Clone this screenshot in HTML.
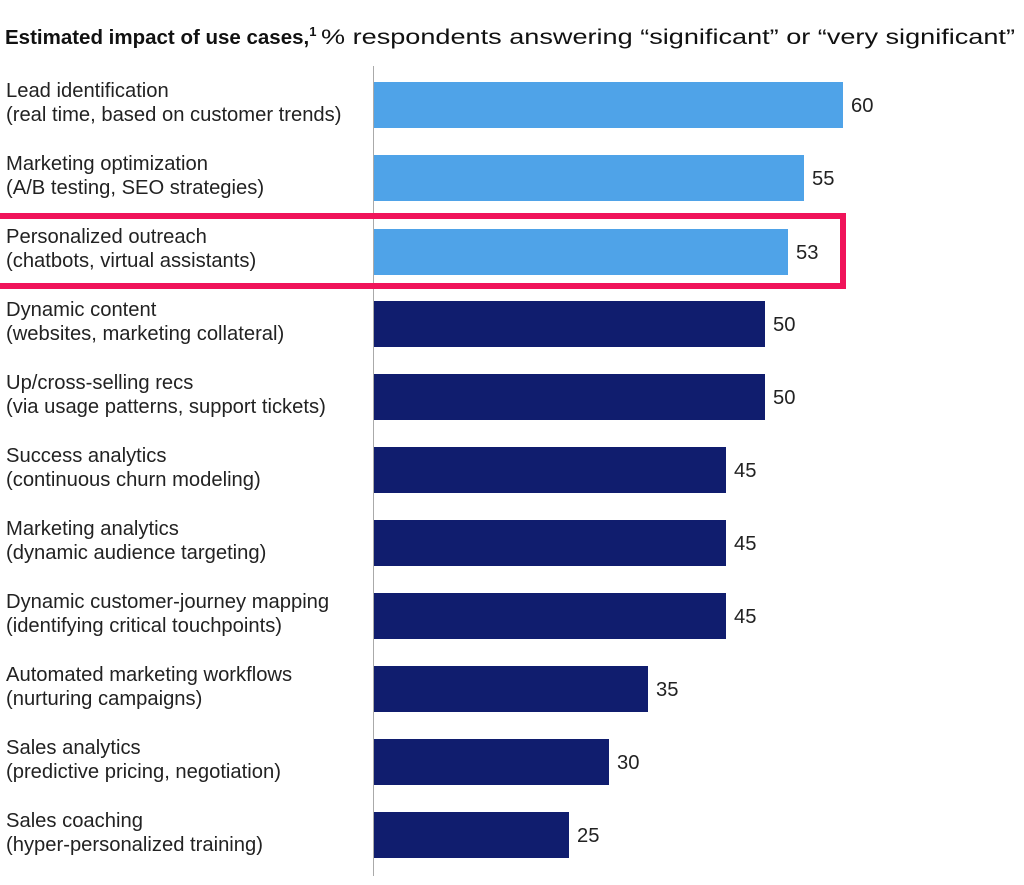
<!DOCTYPE html>
<html><head><meta charset="utf-8"><style>
body{margin:0;background:#fff;width:1024px;height:880px;overflow:hidden;font-family:"Liberation Sans",sans-serif;}
</style></head><body>
<svg width="1024" height="880" xmlns="http://www.w3.org/2000/svg" font-family="Liberation Sans, sans-serif">
<text x="5" y="44" font-size="20.5" fill="#111" font-weight="bold">Estimated impact of use cases,<tspan font-size="13" dy="-8">1</tspan></text>
<text x="321" y="44" font-size="21" fill="#111" textLength="694" lengthAdjust="spacingAndGlyphs">% respondents answering “significant” or “very significant”</text>
<line x1="373.5" y1="66" x2="373.5" y2="876" stroke="#aaa" stroke-width="1"/>
<g font-size="20.2" fill="#222">
<rect x="374" y="82" width="469" height="46" fill="#4fa3e8"/><text x="851" y="112">60</text>
<text x="6" y="97">Lead identification</text><text x="6" y="121">(real time, based on customer trends)</text>

<rect x="374" y="155" width="430" height="46" fill="#4fa3e8"/><text x="812" y="185">55</text>
<text x="6" y="170">Marketing optimization</text><text x="6" y="194">(A/B testing, SEO strategies)</text>

<rect x="374" y="229" width="414" height="46" fill="#4fa3e8"/><text x="796" y="259">53</text>
<text x="6" y="243">Personalized outreach</text><text x="6" y="267">(chatbots, virtual assistants)</text>

<rect x="374" y="301" width="391" height="46" fill="#101d6e"/><text x="773" y="331">50</text>
<text x="6" y="316">Dynamic content</text><text x="6" y="340">(websites, marketing collateral)</text>

<rect x="374" y="374" width="391" height="46" fill="#101d6e"/><text x="773" y="404">50</text>
<text x="6" y="389">Up/cross-selling recs</text><text x="6" y="413">(via usage patterns, support tickets)</text>

<rect x="374" y="447" width="352" height="46" fill="#101d6e"/><text x="734" y="477">45</text>
<text x="6" y="462">Success analytics</text><text x="6" y="486">(continuous churn modeling)</text>

<rect x="374" y="520" width="352" height="46" fill="#101d6e"/><text x="734" y="550">45</text>
<text x="6" y="535">Marketing analytics</text><text x="6" y="559">(dynamic audience targeting)</text>

<rect x="374" y="593" width="352" height="46" fill="#101d6e"/><text x="734" y="623">45</text>
<text x="6" y="608">Dynamic customer-journey mapping</text><text x="6" y="632">(identifying critical touchpoints)</text>

<rect x="374" y="666" width="274" height="46" fill="#101d6e"/><text x="656" y="696">35</text>
<text x="6" y="681">Automated marketing workflows</text><text x="6" y="705">(nurturing campaigns)</text>

<rect x="374" y="739" width="235" height="46" fill="#101d6e"/><text x="617" y="769">30</text>
<text x="6" y="754">Sales analytics</text><text x="6" y="778">(predictive pricing, negotiation)</text>

<rect x="374" y="812" width="195" height="46" fill="#101d6e"/><text x="577" y="842">25</text>
<text x="6" y="827">Sales coaching</text><text x="6" y="851">(hyper-personalized training)</text>
</g>
<rect x="-5" y="216" width="848" height="70" fill="none" stroke="#f0145a" stroke-width="6"/>
</svg>
</body></html>
